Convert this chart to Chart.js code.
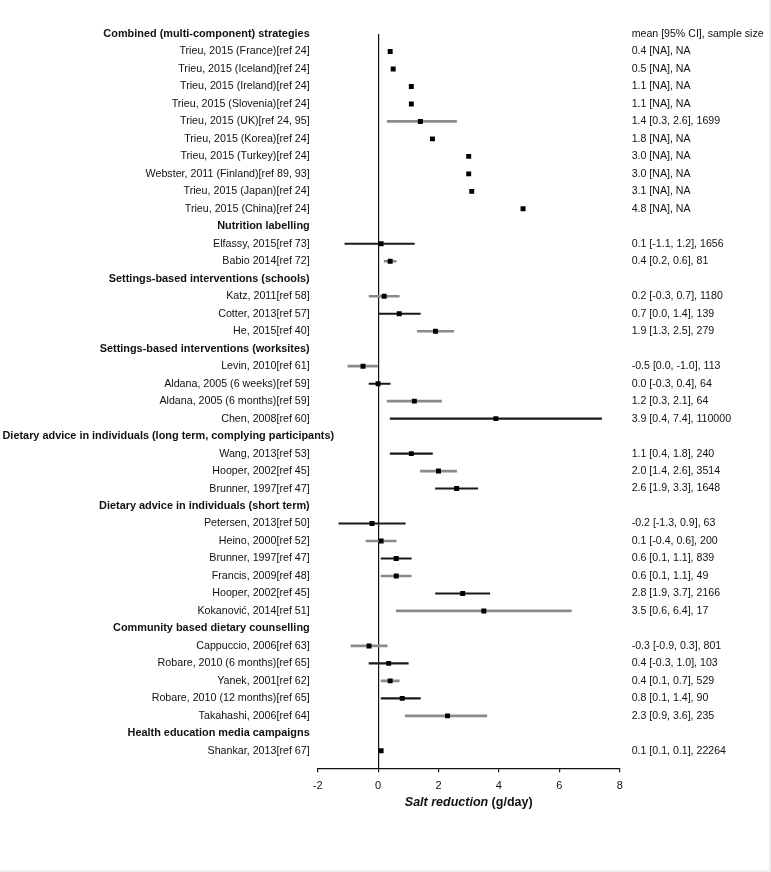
<!DOCTYPE html>
<html>
<head>
<meta charset="utf-8">
<script src="https://cdn.jsdelivr.net/npm/chart.js@4/dist/chart.umd.min.js"></script>
<style>
    body { margin: 0; background: #fff; }
    .wrap { width: 769px; height: 870px; border-right: 2px solid #ececec; border-bottom: 2px solid #ececec; }
    canvas { display: block; }
</style>
</head>
<body>
<div class="wrap"><canvas id="forest_canvas" width="769" height="870"></canvas></div>
<script>
// rows, top to bottom
var rowLabels = [
    'Combined (multi-component) strategies',
    'Trieu, 2015 (France)[ref 24]',
    'Trieu, 2015 (Iceland)[ref 24]',
    'Trieu, 2015 (Ireland)[ref 24]',
    'Trieu, 2015 (Slovenia)[ref 24]',
    'Trieu, 2015 (UK)[ref 24, 95]',
    'Trieu, 2015 (Korea)[ref 24]',
    'Trieu, 2015 (Turkey)[ref 24]',
    'Webster, 2011 (Finland)[ref 89, 93]',
    'Trieu, 2015 (Japan)[ref 24]',
    'Trieu, 2015 (China)[ref 24]',
    'Nutrition labelling',
    'Elfassy, 2015[ref 73]',
    'Babio 2014[ref 72]',
    'Settings-based interventions (schools)',
    'Katz, 2011[ref 58]',
    'Cotter, 2013[ref 57]',
    'He, 2015[ref 40]',
    'Settings-based interventions (worksites)',
    'Levin, 2010[ref 61]',
    'Aldana, 2005 (6 weeks)[ref 59]',
    'Aldana, 2005 (6 months)[ref 59]',
    'Chen, 2008[ref 60]',
    'Dietary advice in individuals (long term, complying participants)',
    'Wang, 2013[ref 53]',
    'Hooper, 2002[ref 45]',
    'Brunner, 1997[ref 47]',
    'Dietary advice in individuals (short term)',
    'Petersen, 2013[ref 50]',
    'Heino, 2000[ref 52]',
    'Brunner, 1997[ref 47]',
    'Francis, 2009[ref 48]',
    'Hooper, 2002[ref 45]',
    'Kokanović, 2014[ref 51]',
    'Community based dietary counselling',
    'Cappuccio, 2006[ref 63]',
    'Robare, 2010 (6 months)[ref 65]',
    'Yanek, 2001[ref 62]',
    'Robare, 2010 (12 months)[ref 65]',
    'Takahashi, 2006[ref 64]',
    'Health education media campaigns',
    'Shankar, 2013[ref 67]'
];
var headerRows = [0, 11, 14, 18, 23, 27, 34, 40];
var wideRow = 23; // this heading starts at the left edge and runs past the axis

// salt reduction g/day (null = group heading)
var means = [null, 0.4, 0.5, 1.1, 1.1, 1.4, 1.8, 3.0, 3.0, 3.1, 4.8,
    null, 0.1, 0.4,
    null, 0.2, 0.7, 1.9,
    null, -0.5, 0.0, 1.2, 3.9,
    null, 1.1, 2.0, 2.6,
    null, -0.2, 0.1, 0.6, 0.6, 2.8, 3.5,
    null, -0.3, 0.35, 0.4, 0.8, 2.3,
    null, 0.1];
var ciLow = [null, null, null, null, null, 0.3, null, null, null, null, null,
    null, -1.1, 0.2,
    null, -0.3, 0.0, 1.3,
    null, -1.0, -0.3, 0.3, 0.4,
    null, 0.4, 1.4, 1.9,
    null, -1.3, -0.4, 0.1, 0.1, 1.9, 0.6,
    null, -0.9, -0.3, 0.1, 0.1, 0.9,
    null, null];
var ciHigh = [null, null, null, null, null, 2.6, null, null, null, null, null,
    null, 1.2, 0.6,
    null, 0.7, 1.4, 2.5,
    null, 0.0, 0.4, 2.1, 7.4,
    null, 1.8, 2.6, 3.3,
    null, 0.9, 0.6, 1.1, 1.1, 3.7, 6.4,
    null, 0.3, 1.0, 0.7, 1.4, 3.6,
    null, null];
// 1 = interval drawn in grey
var ciGrey = [0, 0, 0, 0, 0, 1, 0, 0, 0, 0, 0,
    0, 0, 1,
    0, 1, 0, 1,
    0, 1, 0, 1, 0,
    0, 0, 1, 0,
    0, 0, 1, 0, 1, 0, 1,
    0, 1, 0, 1, 0, 1,
    0, 0];

var summaryText = [
    'mean [95% CI], sample size',
    '0.4 [NA], NA', '0.5 [NA], NA', '1.1 [NA], NA', '1.1 [NA], NA',
    '1.4 [0.3, 2.6], 1699', '1.8 [NA], NA', '3.0 [NA], NA', '3.0 [NA], NA',
    '3.1 [NA], NA', '4.8 [NA], NA',
    '', '0.1 [-1.1, 1.2], 1656', '0.4 [0.2, 0.6], 81',
    '', '0.2 [-0.3, 0.7], 1180', '0.7 [0.0, 1.4], 139', '1.9 [1.3, 2.5], 279',
    '', '-0.5 [0.0, -1.0], 113', '0.0 [-0.3, 0.4], 64', '1.2 [0.3, 2.1], 64', '3.9 [0.4, 7.4], 110000',
    '', '1.1 [0.4, 1.8], 240', '2.0 [1.4, 2.6], 3514', '2.6 [1.9, 3.3], 1648',
    '', '-0.2 [-1.3, 0.9], 63', '0.1 [-0.4, 0.6], 200', '0.6 [0.1, 1.1], 839',
    '0.6 [0.1, 1.1], 49', '2.8 [1.9, 3.7], 2166', '3.5 [0.6, 6.4], 17',
    '', '-0.3 [-0.9, 0.3], 801', '0.4 [-0.3, 1.0], 103', '0.4 [0.1, 0.7], 529',
    '0.8 [0.1, 1.4], 90', '2.3 [0.9, 3.6], 235',
    '', '0.1 [0.1, 0.1], 22264'
];
var xTicks = [-2, 0, 2, 4, 6, 8];

var FONT = "'Liberation Sans', Arial, sans-serif";

// build datasets
var pts = [], barsBlack = [], barsGrey = [];
rowLabels.forEach(function(l, i) {
    if (means[i] !== null) pts.push({ x: means[i], y: i });
    if (ciLow[i] !== null) {
        var b = { x: [ciLow[i], ciHigh[i]], y: i };
        if (ciGrey[i]) barsGrey.push(b); else barsBlack.push(b);
    }
});

function rowTicks(scale) {
    scale.ticks = rowLabels.map(function(l, i) { return { value: i }; });
}

// x축 제목 (굵게 + 기울임 섞어서) + 긴 그룹 제목
var extraText = {
    id: 'extraText',
    afterDraw: function(chart) {
        var s = chart.scales.x, c = chart.ctx;
        var t1 = 'Salt reduction', t2 = ' (g/day)';
        c.save();
        c.fillStyle = '#111';
        c.textBaseline = 'middle';
        c.font = 'italic bold 12.5px ' + FONT;
        var w1 = c.measureText(t1).width;
        c.font = 'bold 12.5px ' + FONT;
        var w2 = c.measureText(t2).width;
        var x0 = (s.left + s.right) / 2 - (w1 + w2) / 2;
        var y = s.top + 34;
        c.font = 'italic bold 12.5px ' + FONT;
        c.fillText(t1, x0, y);
        c.font = 'bold 12.5px ' + FONT;
        c.fillText(t2, x0 + w1, y);

        c.font = 'bold 10.9px ' + FONT;
        c.textAlign = 'left';
        c.fillText(rowLabels[wideRow], 2.5, chart.scales.y.getPixelForValue(wideRow));
        c.restore();
    }
};

var ctx = document.getElementById('forest_canvas');
var chart = new Chart(ctx, {
    type: 'bar',
    data: {
        datasets: [
            {
                type: 'scatter',
                data: pts,
                pointStyle: 'rect',
                pointRadius: 3.5,
                pointHoverRadius: 3.5,
                backgroundColor: '#000',
                borderWidth: 0,
                order: 0
            },
            {
                data: barsBlack,
                backgroundColor: '#1a1a1a',
                barThickness: 1.4,
                grouped: false,
                borderWidth: 0,
                order: 1
            },
            {
                data: barsGrey,
                backgroundColor: '#8a8a8a',
                barThickness: 2,
                grouped: false,
                borderWidth: 0,
                order: 2
            }
        ]
    },
    options: {
        indexAxis: 'y',
        responsive: false,
        devicePixelRatio: 1,
        animation: false,
        layout: { padding: { top: 34, left: 0, right: 0, bottom: 0 } },
        scales: {
            x: {
                type: 'linear',
                position: 'bottom',
                min: -2,
                max: 8,
                afterBuildTicks: function(s) {
                    s.ticks = xTicks.map(function(v) { return { value: v }; });
                },
                afterFit: function(s) { s.height = 870 - 768.3; },
                ticks: { padding: 7, color: '#111', font: { family: FONT, size: 11 } },
                grid: {
                    color: function(c) { return c.tick && c.tick.value === 0 ? '#111' : 'rgba(0,0,0,0)'; },
                    lineWidth: 1.2,
                    tickColor: '#111',
                    tickLength: 4
                },
                border: { display: true, color: '#111', width: 1.2 }
            },
            y: {
                type: 'linear',
                position: 'left',
                reverse: true,
                offset: false,
                min: 0,
                max: 42,
                afterBuildTicks: rowTicks,
                afterFit: function(s) { s.width = 317.7; },
                ticks: {
                    autoSkip: false,
                    padding: 8,
                    color: '#111',
                    font: function(c) {
                        var head = headerRows.indexOf(c.index) >= 0;
                        return { family: FONT, size: head ? 10.9 : 10.7, weight: head ? 'bold' : 'normal' };
                    },
                    callback: function(v, i) { return i === wideRow ? '' : rowLabels[i]; }
                },
                grid: { display: false, drawTicks: false, offset: false },
                border: { display: false }
            },
            y2: {
                type: 'linear',
                position: 'right',
                reverse: true,
                offset: false,
                min: 0,
                max: 42,
                afterBuildTicks: rowTicks,
                afterFit: function(s) { s.width = 769 - 619.7; },
                ticks: {
                    autoSkip: false,
                    padding: 12,
                    color: '#111',
                    font: { family: FONT, size: 10.6 },
                    callback: function(v, i) { return summaryText[i]; }
                },
                grid: { display: false, drawTicks: false },
                border: { display: false }
            }
        },
        plugins: {
            legend: { display: false },
            tooltip: { enabled: false }
        }
    },
    plugins: [extraText]
});
</script>
</body>
</html>
